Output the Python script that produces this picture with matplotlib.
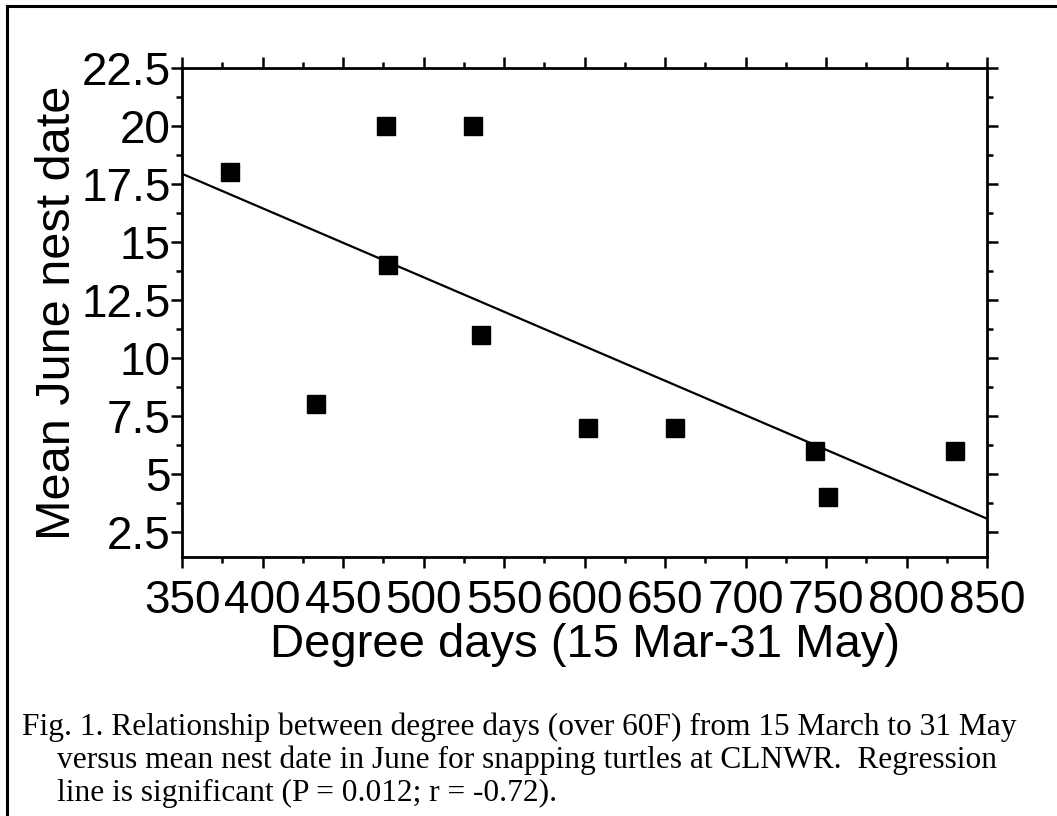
import numpy as np
import matplotlib
matplotlib.use("Agg")
import matplotlib.pyplot as plt
from matplotlib.ticker import MultipleLocator
from matplotlib.lines import Line2D

# degree days (over 60F) vs mean June nest date
degree_days = [380, 477, 531, 478, 536, 433, 602, 656, 743, 751, 830]
nest_date = [18, 20, 20, 14, 11, 8, 7, 7, 6, 4, 6]

x_ticks = [350, 400, 450, 500, 550, 600, 650, 700, 750, 800, 850]
y_ticks = [2.5, 5, 7.5, 10, 12.5, 15, 17.5, 20, 22.5]
y_tick_labels = ["2.5", "5", "7.5", "10", "12.5", "15", "17.5", "20", "22.5"]

caption = ["Fig. 1. Relationship between degree days (over 60F) from 15 March to 31 May",
           "versus mean nest date in June for snapping turtles at CLNWR.  Regression",
           "line is significant (P = 0.012; r = -0.72)."]

fig = plt.figure(figsize=(10.57, 8.16), dpi=100)
ax = fig.add_axes([0.1722, 0.3174, 0.7616, 0.5993])

sans = "Liberation Sans"

ax.plot(degree_days, nest_date, "s", color="black", markersize=13.5, zorder=3)

# regression line across the full axis range
slope, intercept = np.polyfit(degree_days, nest_date, 1)
xs = np.array([x_ticks[0], x_ticks[-1]])
ax.plot(xs, slope * xs + intercept, color="black", linewidth=1.6, zorder=2)

ax.set_xlim(350, 850)
ax.set_ylim(1.42, 22.5)
ax.set_xticks(x_ticks)
ax.set_xticklabels([str(v) for v in x_ticks], fontfamily=sans, fontsize=33)
ax.set_yticks(y_ticks)
ax.set_yticklabels(y_tick_labels, fontfamily=sans, fontsize=33)
ax.xaxis.set_minor_locator(MultipleLocator(25))
ax.yaxis.set_minor_locator(MultipleLocator(1.25))

ax.tick_params(which="both", direction="out", top=True, right=True,
               labeltop=False, labelright=False, width=1.8)
ax.tick_params(which="major", length=8)
ax.tick_params(which="minor", length=4)
ax.tick_params(axis="x", which="major", pad=8)
ax.tick_params(axis="y", which="major", pad=0)
for s in ax.spines.values():
    s.set_linewidth(2)

ax.set_xlabel("Degree days (15 Mar-31 May)", fontfamily=sans, fontsize=34, labelpad=0)
ax.set_ylabel("Mean June nest date", fontfamily=sans, fontsize=35, labelpad=1)

# caption
serif = "Liberation Serif"
fig.text(22 / 1057, 1 - 735 / 816, caption[0], fontfamily=serif,
         fontsize=22.6, va="baseline")
fig.text(57 / 1057, 1 - 768 / 816, caption[1], fontfamily=serif,
         fontsize=22.6, va="baseline")
fig.text(57 / 1057, 1 - 801 / 816, caption[2], fontfamily=serif,
         fontsize=22.6, va="baseline")

# frame (left and top edges only)
fig.add_artist(Line2D([7 / 1057, 7 / 1057], [0, 1 - 6 / 816], color="black",
                      linewidth=2.2, transform=fig.transFigure))
fig.add_artist(Line2D([7 / 1057, 1], [1 - 6 / 816, 1 - 6 / 816], color="black",
                      linewidth=2.2, transform=fig.transFigure))

fig.savefig("out.png", dpi=100, facecolor="white")
